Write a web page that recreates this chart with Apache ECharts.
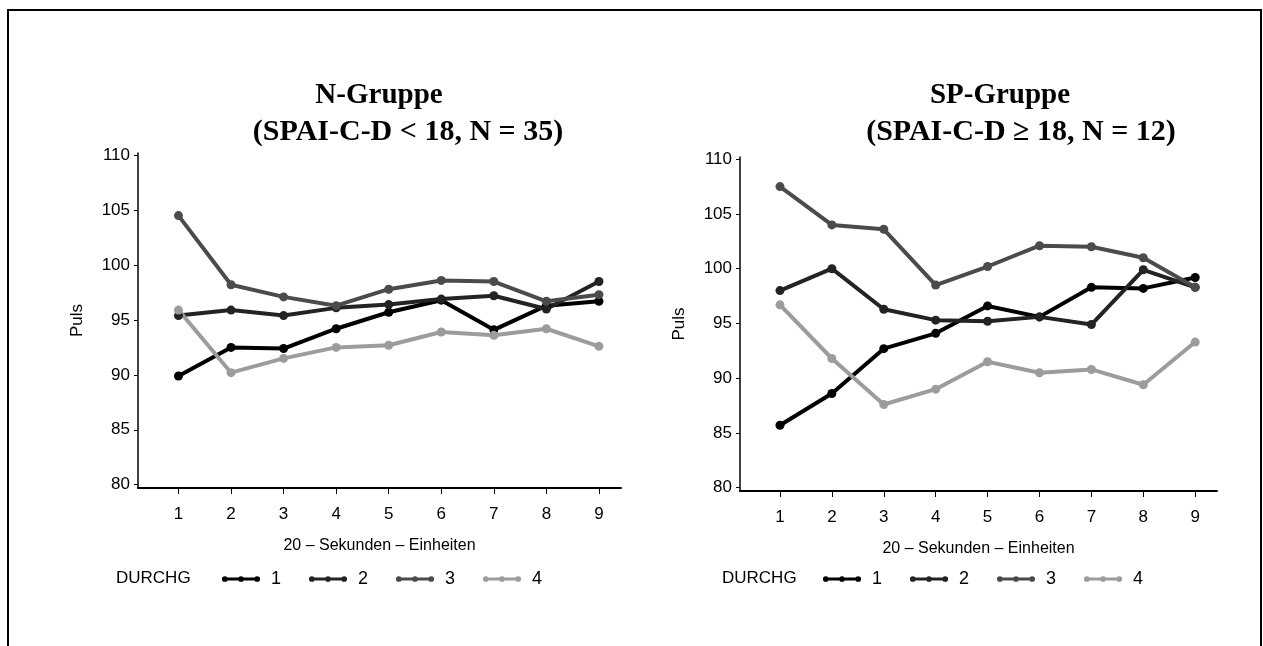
<!DOCTYPE html>
<html>
<head>
<meta charset="utf-8">
<title>Puls N-Gruppe / SP-Gruppe</title>
<script src="https://cdn.jsdelivr.net/npm/echarts@6/dist/echarts.min.js"></script>
<style>
  html, body { margin: 0; padding: 0; background: #fff; overflow: hidden; }
  #main { width: 1263px; height: 646px; }
  #frame { position: absolute; left: 7px; top: 9px; width: 1251px; height: 700px; border: 2px solid #000; pointer-events: none; }
</style>
</head>
<body>
<div id="main"></div>
<div id="frame"></div>
<script>
// 20-Sekunden-Einheiten
const units = [1, 2, 3, 4, 5, 6, 7, 8, 9];
const yTicks = [80, 85, 90, 95, 100, 105, 110];
const groups = ["1", "2", "3", "4"];

// N-Gruppe (SPAI-C-D < 18, N = 35)
const nDurchg1 = [89.9, 92.5, 92.4, 94.2, 95.7, 96.8, 94.1, 96.3, 96.7];
const nDurchg2 = [95.4, 95.9, 95.4, 96.1, 96.4, 96.9, 97.2, 96.0, 98.5];
const nDurchg3 = [104.5, 98.2, 97.1, 96.3, 97.8, 98.6, 98.5, 96.7, 97.3];
const nDurchg4 = [95.9, 90.2, 91.5, 92.5, 92.7, 93.9, 93.6, 94.2, 92.6];

// SP-Gruppe (SPAI-C-D >= 18, N = 12)
const spDurchg1 = [85.7, 88.6, 92.7, 94.1, 96.6, 95.6, 98.3, 98.2, 99.2];
const spDurchg2 = [98.0, 100.0, 96.3, 95.3, 95.2, 95.6, 94.9, 99.9, 98.3];
const spDurchg3 = [107.5, 104.0, 103.6, 98.5, 100.2, 102.1, 102.0, 101.0, 98.3];
const spDurchg4 = [96.7, 91.8, 87.6, 89.0, 91.5, 90.5, 90.8, 89.4, 93.3];

const colors = ["#000000", "#232323", "#4b4b4b", "#9c9c9c"];
const sansFont = "Liberation Sans";
const serifFont = "Liberation Serif";

// line with three dots, same look as the legend keys in the original
const legendIcon =
  "path://M0,2H40V5H0Z" +
  "M0,3.5a3,3 0 1,1 6,0a3,3 0 1,1 -6,0Z" +
  "M17,3.5a3,3 0 1,1 6,0a3,3 0 1,1 -6,0Z" +
  "M34,3.5a3,3 0 1,1 6,0a3,3 0 1,1 -6,0Z";

function makeSeries(arr, idx, axisIdx) {
  return {
    name: groups[idx],
    type: "line",
    xAxisIndex: axisIdx,
    yAxisIndex: axisIdx,
    data: units.map((u, i) => [u, arr[i]]),
    symbol: "circle",
    symbolSize: 9,
    color: colors[idx],
    lineStyle: { width: 4, color: colors[idx] },
    itemStyle: { color: colors[idx] },
    emphasis: { disabled: true },
    animation: false,
  };
}

function makeXAxis(gridIndex) {
  return {
    type: "value",
    gridIndex: gridIndex,
    min: 0.23,
    max: 9.42,
    name: "20 \u2013 Sekunden \u2013 Einheiten",
    nameLocation: "middle",
    nameGap: 50,
    nameTextStyle: { fontFamily: sansFont, fontSize: 16, color: "#000" },
    axisLine: { onZero: false, lineStyle: { color: "#000", width: 2 } },
    axisTick: { customValues: units, length: 6, lineStyle: { color: "#000", width: 1 } },
    axisLabel: { customValues: units, margin: 18, fontFamily: sansFont, fontSize: 17, color: "#000" },
    splitLine: { show: false },
  };
}

function makeYAxis(gridIndex) {
  return {
    type: "value",
    gridIndex: gridIndex,
    min: 79.7,
    max: 110.2,
    name: "Puls",
    nameLocation: "middle",
    nameGap: 52,
    nameTextStyle: { fontFamily: sansFont, fontSize: 17, color: "#000" },
    axisLine: { show: true, onZero: false, lineStyle: { color: "#000", width: 1.5 } },
    axisTick: { show: true, customValues: yTicks, length: 4, lineStyle: { color: "#000", width: 1 } },
    axisLabel: { customValues: yTicks, margin: 8, fontFamily: sansFont, fontSize: 17, color: "#000" },
    splitLine: { show: false },
  };
}

function makeLegend(left) {
  return {
    left: left,
    top: 570,
    padding: 0,
    orient: "horizontal",
    data: groups,
    icon: legendIcon,
    itemWidth: 38,
    itemHeight: 7,
    itemGap: 28,
    selectedMode: false,
    textStyle: { fontFamily: sansFont, fontSize: 18, color: "#000", padding: [0, 0, 0, 6] },
  };
}

function titleText(text, x, y, size) {
  return {
    type: "text",
    x: x,
    y: y,
    style: {
      text: text,
      align: "center",
      verticalAlign: "middle",
      font: "bold " + size + "px '" + serifFont + "'",
      fill: "#000",
    },
  };
}

function plainText(text, x, y) {
  return {
    type: "text",
    x: x,
    y: y,
    style: {
      text: text,
      align: "left",
      verticalAlign: "middle",
      font: "17px '" + sansFont + "'",
      fill: "#000",
    },
  };
}

const chart = echarts.init(document.getElementById("main"), null, { renderer: "canvas" });

chart.setOption({
  backgroundColor: "#fff",
  animation: false,
  grid: [
    { left: 138, top: 153, width: 483, height: 335 },
    { left: 740, top: 157, width: 477, height: 334 },
  ],
  xAxis: [makeXAxis(0), makeXAxis(1)],
  yAxis: [makeYAxis(0), makeYAxis(1)],
  legend: [makeLegend(222), makeLegend(823)],
  graphic: [
    titleText("N-Gruppe", 379, 96, 29),
    titleText("(SPAI-C-D < 18, N = 35)", 408, 132, 30),
    titleText("SP-Gruppe", 1000, 96, 29),
    titleText("(SPAI-C-D \u2265 18, N = 12)", 1021, 132, 30),
    plainText("DURCHG", 116, 578),
    plainText("DURCHG", 722, 578),
  ],
  series: [
    makeSeries(nDurchg1, 0, 0),
    makeSeries(nDurchg2, 1, 0),
    makeSeries(nDurchg3, 2, 0),
    makeSeries(nDurchg4, 3, 0),
    makeSeries(spDurchg1, 0, 1),
    makeSeries(spDurchg2, 1, 1),
    makeSeries(spDurchg3, 2, 1),
    makeSeries(spDurchg4, 3, 1),
  ],
});

window.addEventListener("resize", function () {
  chart.resize();
});
</script>
</body>
</html>
